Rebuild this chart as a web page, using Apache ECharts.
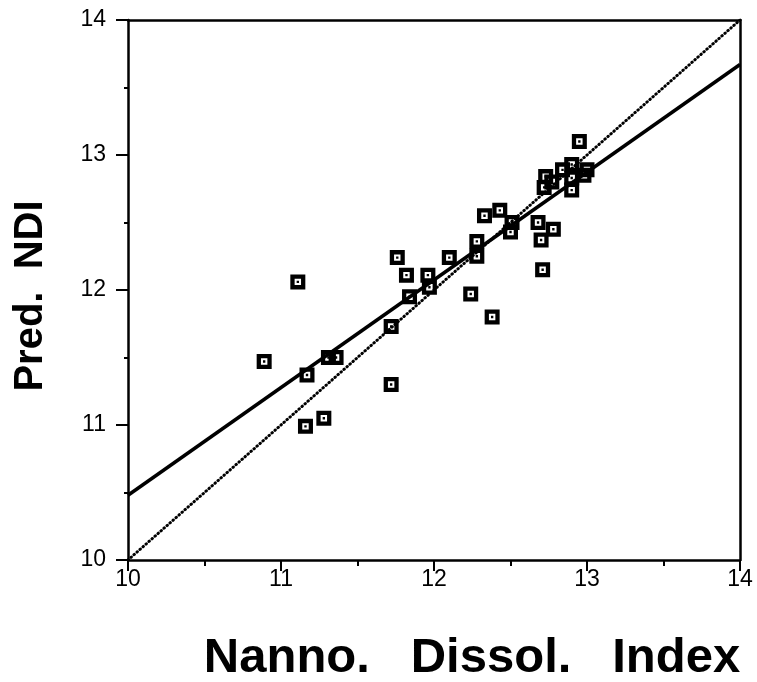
<!DOCTYPE html>
<html>
<head>
<meta charset="utf-8">
<script src="https://cdn.jsdelivr.net/npm/echarts@6/dist/echarts.min.js"></script>
<style>
  html, body { margin: 0; padding: 0; background: #fff; }
  #main { width: 757px; height: 682px; }
</style>
</head>
<body>
<div id="main"></div>
<script>
// observed NDI (x) vs predicted NDI (y)
var obsNdi = [10.89, 11.11, 11.16, 11.17, 11.28, 11.31, 11.36, 11.72, 11.72, 11.76,
  11.82, 11.84, 11.96, 11.97, 12.10, 12.24, 12.28, 12.28, 12.33, 12.38,
  12.43, 12.50, 12.51, 12.68, 12.70, 12.71, 12.78, 12.72, 12.73, 12.77,
  12.84, 12.90, 12.90, 12.90, 12.98, 13.00, 12.95];
var predNdi = [11.47, 12.06, 10.99, 11.37, 11.05, 11.50, 11.50, 11.73, 11.30, 12.24,
  12.11, 11.95, 12.11, 12.02, 12.24, 11.97, 12.36, 12.25, 12.55, 11.80,
  12.59, 12.43, 12.50, 12.50, 12.37, 12.15, 12.45, 12.76, 12.84, 12.80,
  12.89, 12.93, 12.83, 12.74, 12.85, 12.89, 13.10];

// fitted regression line end points
var fitX = [10, 14];
var fitY = [10.48, 13.67];
// 1:1 line
var oneToOneX = [10, 14];
var oneToOneY = [10, 14];

var xTicks = ['10', '11', '12', '13', '14'];

var myChart = echarts.init(document.getElementById('main'));

function pairs(xs, ys) {
  var out = [];
  for (var i = 0; i < xs.length; i++) {
    out.push([xs[i], ys[i]]);
  }
  return out;
}

// square marker: black frame, white hole, black dot in the middle
var boxSymbol = 'path://M0,0L14,0L14,14L0,14Z M4,4L4,10L10,10L10,4Z M5.9,5.9L8.1,5.9L8.1,8.1L5.9,8.1Z';

var labelFont = {
  color: '#000',
  fontFamily: 'Liberation Sans, Arial, sans-serif',
  fontSize: 23
};

myChart.setOption({
  animation: false,
  backgroundColor: '#fff',
  grid: {
    left: 128,
    right: 17,
    top: 20,
    bottom: 122,
    outerBoundsMode: 'none'
  },
  xAxis: [{
    type: 'value',
    min: 10,
    max: 14,
    interval: 1,
    name: 'Nanno.   Dissol.   Index',
    nameLocation: 'middle',
    nameGap: 74,
    nameTextStyle: {
      color: '#000',
      fontFamily: 'Liberation Sans, Arial, sans-serif',
      fontWeight: 'bold',
      fontSize: 49,
      padding: [0, 0, 0, 76]
    },
    axisLine: { show: true, lineStyle: { color: '#000', width: 2.5 } },
    axisTick: { show: true, length: 11, lineStyle: { color: '#000', width: 2 } },
    minorTick: { show: true, splitNumber: 2, length: 6, lineStyle: { color: '#000', width: 2 } },
    axisLabel: Object.assign({
      margin: 8,
      formatter: function (v) { return xTicks[Math.round(v) - 10]; }
    }, labelFont),
    splitLine: { show: false }
  }, {
    type: 'value',
    position: 'top',
    min: 10,
    max: 14,
    axisLine: { show: true, onZero: false, lineStyle: { color: '#000', width: 2.5 } },
    axisTick: { show: false },
    axisLabel: { show: false },
    splitLine: { show: false }
  }],
  yAxis: [{
    type: 'value',
    min: 10,
    max: 14,
    interval: 1,
    name: 'Pred.  NDI',
    nameLocation: 'middle',
    nameGap: 77,
    nameTextStyle: {
      color: '#000',
      fontFamily: 'Liberation Sans, Arial, sans-serif',
      fontWeight: 'bold',
      fontSize: 40,
      padding: [0, 12, 0, 0]
    },
    axisLine: { show: true, lineStyle: { color: '#000', width: 2.5 } },
    axisTick: { show: true, length: 12, lineStyle: { color: '#000', width: 2 } },
    minorTick: { show: true, splitNumber: 2, length: 4, lineStyle: { color: '#000', width: 2 } },
    axisLabel: Object.assign({ margin: 22 }, labelFont),
    splitLine: { show: false }
  }, {
    type: 'value',
    position: 'right',
    min: 10,
    max: 14,
    axisLine: { show: true, onZero: false, lineStyle: { color: '#000', width: 2.5 } },
    axisTick: { show: false },
    axisLabel: { show: false },
    splitLine: { show: false }
  }],
  series: [{
    name: '1:1',
    type: 'line',
    data: pairs(oneToOneX, oneToOneY),
    symbol: 'none',
    lineStyle: { color: '#000', width: 3, type: [0.5, 3.5], cap: 'round' },
    z: 2
  }, {
    name: 'fit',
    type: 'line',
    data: pairs(fitX, fitY),
    symbol: 'none',
    lineStyle: { color: '#000', width: 3.5 },
    z: 3
  }, {
    name: 'NDI',
    type: 'scatter',
    data: pairs(obsNdi, predNdi),
    symbol: boxSymbol,
    symbolSize: 15,
    itemStyle: { color: '#000', opacity: 1 },
    z: 4
  }]
});
</script>
</body>
</html>
